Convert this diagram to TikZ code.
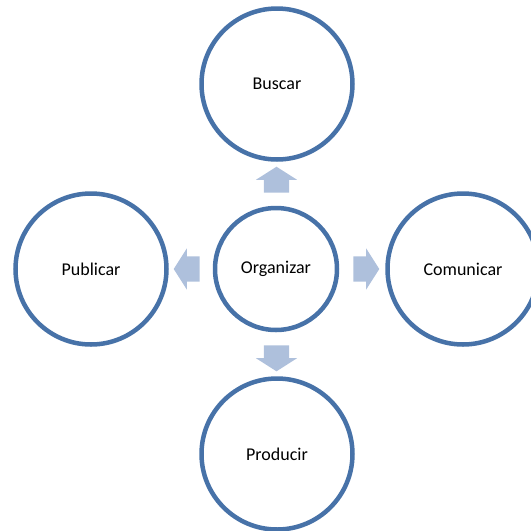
\documentclass[tikz,border=0pt]{standalone}
\usepackage{fontspec}
\setmainfont{Carlito}
\usetikzlibrary{shapes.arrows,calc}
\definecolor{azulborde}{RGB}{71,114,168}
\definecolor{azulflecha}{RGB}{174,192,220}

\tikzset{
  etapa/.style={circle, draw=azulborde, line width=4.5pt, fill=white,
    minimum size=151pt, inner sep=0pt, font=\fontsize{18}{20}\selectfont},
  flecha/.style={single arrow, fill=azulflecha, draw=none,
    inner xsep=0pt, inner ysep=12.5pt, minimum height=26pt,
    single arrow head extend=8pt, single arrow tip angle=115}
}

\begin{document}
\begin{tikzpicture}[x=1pt,y=-1pt]
    \useasboundingbox (0,0) rectangle (531,531);
    \node[etapa] (buscar) at (277,84) {Buscar};
    \node[etapa] (publicar) at (91,269) {Publicar};
    \node[etapa] (comunicar) at (463,269) {Comunicar};
    \node[etapa] (producir) at (277,454) {Producir};
    \node[etapa, minimum size=122pt] (organizar) at (276,269) {Organizar};

    \node[flecha, rotate=90] (aBuscar) at ($(organizar.north)!0.5!(buscar.south)$) {};
    \node[flecha, rotate=180] (aPublicar) at ($(organizar.west)!0.5!(publicar.east)$) {};
    \node[flecha] (aComunicar) at ($(organizar.east)!0.5!(comunicar.west)$) {};
    \node[flecha, rotate=-90] (aProducir) at ($(organizar.south)!0.5!(producir.north)$) {};
\end{tikzpicture}
\end{document}
